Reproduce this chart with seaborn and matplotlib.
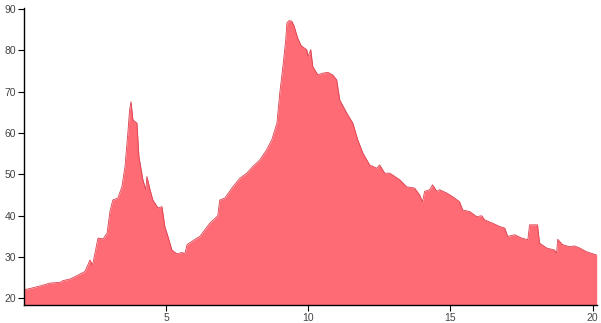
import numpy as np
import pandas as pd
import matplotlib
matplotlib.use("Agg")
import matplotlib.pyplot as plt
import seaborn as sns

# traced series (x in data units, y values)
x_vals = [0.02, 0.22, 0.57, 0.92, 1.28, 1.38, 1.63, 1.98, 2.15, 2.33, 2.42, 2.61,
          2.79, 2.93, 3.03, 3.13, 3.31, 3.45, 3.56, 3.66, 3.72, 3.77, 3.84, 3.98, 4.05,
          4.19, 4.29, 4.33, 4.44, 4.54, 4.72, 4.86, 4.96, 5.07, 5.21, 5.38, 5.56,
          5.67, 5.74, 5.91, 6.09, 6.19, 6.54, 6.82, 6.89, 7.07, 7.35, 7.60, 7.84,
          8.05, 8.30, 8.54, 8.72, 8.90, 9.00, 9.11, 9.21, 9.25, 9.32, 9.42, 9.50,
          9.63, 9.75, 9.90, 9.95, 9.99, 10.09, 10.16, 10.34, 10.51, 10.69, 10.86,
          11.00, 11.11, 11.36,
          11.57, 11.74, 11.92, 12.16, 12.41, 12.51, 12.69, 12.87, 13.22, 13.46,
          13.74, 13.92, 14.02, 14.09, 14.27, 14.37, 14.52, 14.62, 14.87, 15.08,
          15.32, 15.43, 15.68, 15.92, 16.10, 16.20, 16.48, 16.73, 16.91, 17.01,
          17.26, 17.50, 17.72, 17.78, 18.06, 18.13, 18.38, 18.66, 18.73, 18.77,
          18.94, 19.19, 19.36, 19.54, 19.78, 20.14]
y_vals = [22.1, 22.4, 23.0, 23.7, 23.9, 24.3, 24.7, 25.9, 26.5, 29.3, 28.1, 34.6,
          34.4, 35.8, 41.0, 43.8, 44.3, 47.0, 51.9, 60.0, 65.5, 67.6, 63.2, 62.4, 54.3,
          48.7, 46.3, 49.5, 46.3, 43.8, 41.9, 42.2, 37.4, 35.0, 31.7, 30.8, 31.1,
          30.9, 33.0, 33.8, 34.6, 35.0, 38.2, 40.0, 43.8, 44.3, 47.0, 49.1, 50.3,
          51.9, 53.5, 56.0, 58.4, 62.4, 69.7, 76.1, 82.6, 86.6, 87.2, 87.1, 86.0,
          83.0, 81.2, 80.4, 80.2, 78.5, 80.2, 76.1, 74.1, 74.5, 74.7, 74.1,
          72.9, 68.0, 64.8,
          62.4, 58.4, 55.2, 52.3, 51.5, 52.3, 50.3, 50.3, 48.7, 47.0,
          46.7, 45.0, 43.4, 45.9, 46.3, 47.5, 45.9, 46.3, 45.5, 44.6,
          43.4, 41.4, 41.0, 39.8, 40.0, 39.0, 38.2, 37.4, 37.0, 35.0,
          35.4, 34.6, 34.2, 37.8, 37.8, 33.4, 32.2, 31.7, 30.9, 34.3,
          33.0, 32.5, 32.7, 32.2, 31.3, 30.5]
x_ticks = [5, 10, 15, 20]
y_ticks = [20, 30, 40, 50, 60, 70, 80, 90]

df = pd.DataFrame({"x": x_vals, "y": y_vals})

sns.set_style("ticks")
plt.rcParams["font.family"] = ["Liberation Sans", "DejaVu Sans"]

fig = plt.figure(figsize=(6.01, 3.23), dpi=100)
ax = fig.add_axes([0.0404, 0.0557, 0.9529, 0.9193])

y_bottom = 18.4
ax.fill_between(df["x"], y_bottom, df["y"], color="#ff6b75", linewidth=0)
sns.lineplot(data=df, x="x", y="y", ax=ax, color="#d9404f", linewidth=0.6)

ax.set_xlim(0.02, 20.15)
ax.set_ylim(y_bottom, 90.25)
ax.set_xticks(x_ticks)
ax.set_yticks(y_ticks)
ax.set_xlabel("")
ax.set_ylabel("")
ax.tick_params(axis="both", labelsize=7.5, labelcolor="#444444", color="black",
               length=4, width=0.8, pad=2)
for s in ["top", "right"]:
    ax.spines[s].set_visible(False)
for s in ["left", "bottom"]:
    ax.spines[s].set_color("black")
    ax.spines[s].set_linewidth(1.0)

fig.savefig("out.png", dpi=100)
